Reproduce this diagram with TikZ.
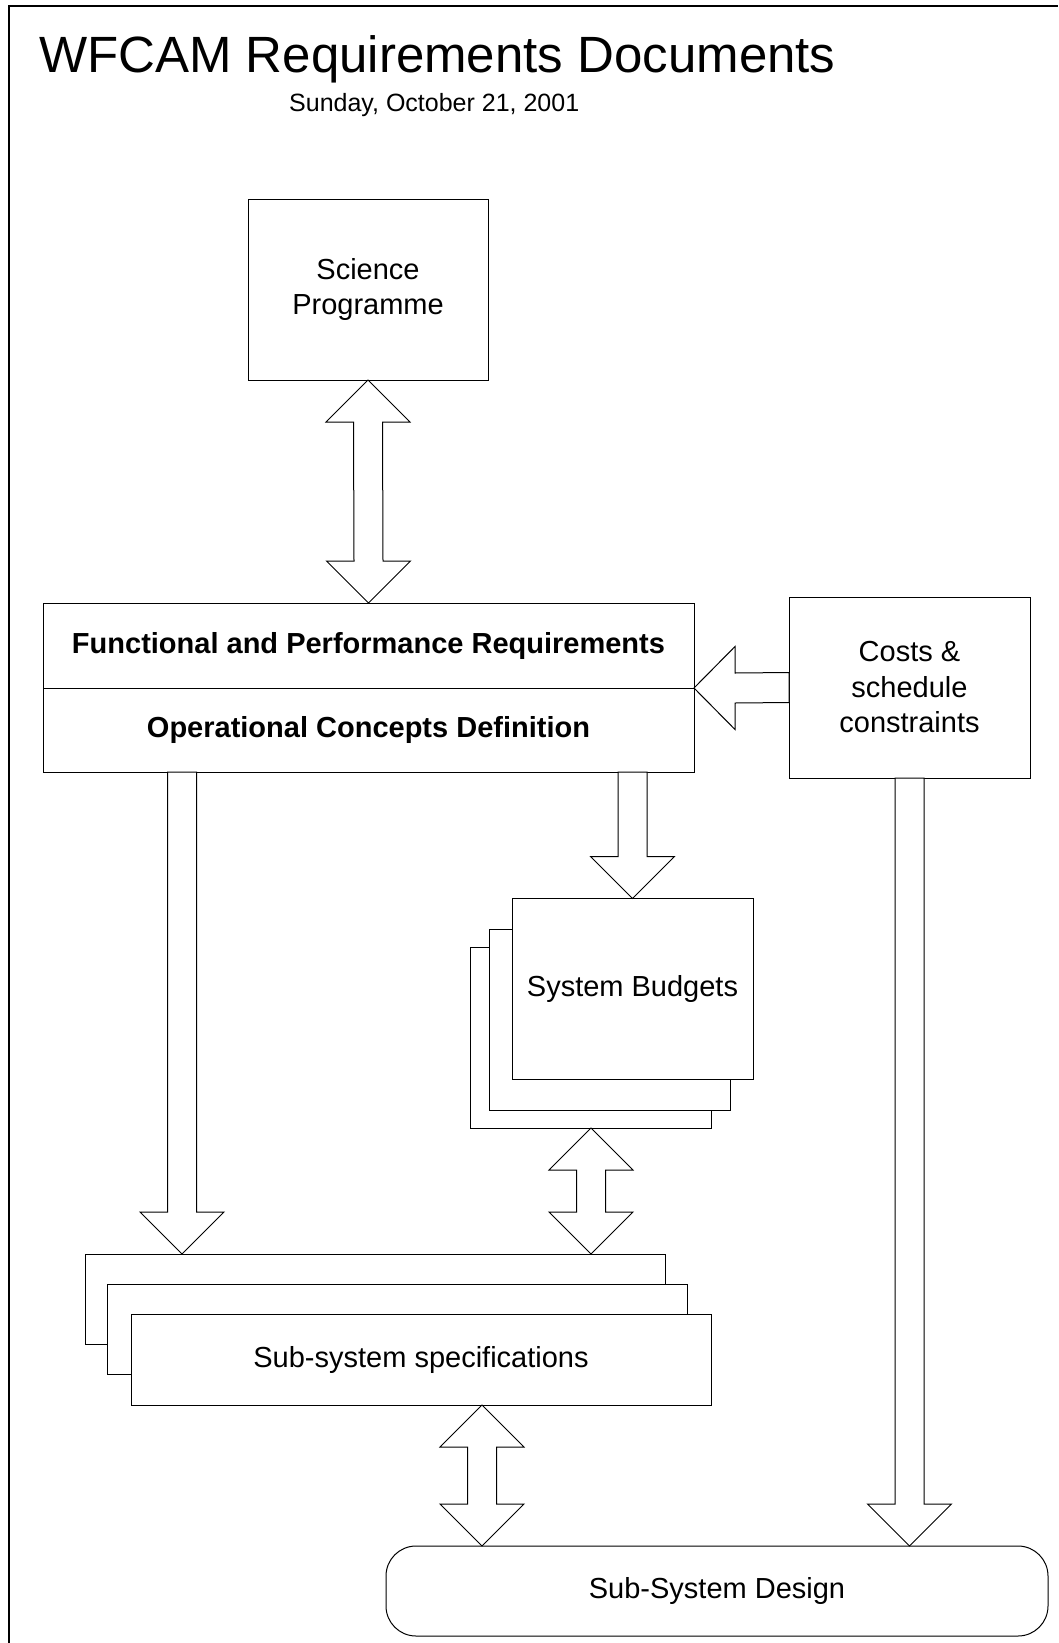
\documentclass[tikz,border=0pt]{standalone}
\usepackage{fontspec}
\setmainfont{Liberation Sans}
\usetikzlibrary{positioning,calc}

\tikzset{
box/.style={draw,line width=1pt,fill=white,inner sep=0pt,outer sep=0pt,align=center,
  font=\fontsize{29}{35.5}\selectfont},
boldbox/.style={box,font=\fontsize{29}{35.5}\selectfont\bfseries},
blockarrow/.style={draw,line width=1pt,fill=white,line join=miter}
}
% hollow down arrow, tail #1, tip #2
\newcommand{\downarrowbox}[2]{%
\draw[blockarrow] ($(#1)+(-14.5,0)$) -- ($(#2)+(-14.5,-42)$) -- ++(-27.5,0) -- (#2)
 -- ++(42,-42) -- ++(-27.5,0) -- ($(#1)+(14.5,0)$) -- cycle;}
% hollow double arrow, top tip #1, bottom tip #2
\newcommand{\dblarrowbox}[2]{%
\draw[blockarrow] (#1) -- ++(-42,42) -- ++(27.5,0) -- ($(#2)+(-14.5,-42)$) -- ++(-27.5,0) -- (#2)
 -- ++(42,-42) -- ++(-27.5,0) -- ($(#1)+(14.5,42)$) -- ++(27.5,0) -- cycle;}

\begin{document}
\begin{tikzpicture}[x=1pt,y=-1pt]
\useasboundingbox (0,0) rectangle (1058,1643);
\draw[line width=2pt] (9,1643) -- (9,6) -- (1058,6);

\node[anchor=base west,inner sep=0pt,font=\fontsize{51}{60}\selectfont] (title) at (39,73)
 {WFCAM Requirements Documents};
\node[anchor=base west,inner sep=0pt,font=\fontsize{25}{30}\selectfont] (date) at (289,112)
 {Sunday, October 21, 2001};

\draw
(368,289.5) node[box,minimum width=240pt,minimum height=181pt](sci){Science\\Programme}
(368.5,645.5) node[boldbox,minimum width=651pt,minimum height=85pt](fpr){Functional and Performance Requirements}
(909.5,687.5) node[box,minimum width=241pt,minimum height=181pt](costs){Costs \&\\schedule\\constraints}
(591,1037.5) node[box,minimum width=241pt,minimum height=181pt](bud3){}
(609.5,1020) node[box,minimum width=241pt,minimum height=181pt](bud2){}
(632.5,989) node[box,minimum width=241pt,minimum height=181pt](bud1){System Budgets}
(375.3,1299) node[box,minimum width=580pt,minimum height=90pt](spec1){}
(397,1329) node[box,minimum width=580pt,minimum height=90pt](spec2){}
(421,1359.5) node[box,minimum width=580pt,minimum height=91pt](spec3){Sub-system specifications}
(717,1591) node[box,rounded corners=30pt,minimum width=662pt,minimum height=90pt](design){Sub-System Design}
;
\node[boldbox,minimum width=651pt,minimum height=84pt,below=0pt of fpr](ocd){Operational Concepts Definition};

\coordinate (l1) at ($(ocd.south west)+(139,0)$);
\coordinate (l2) at (l1 |- spec1.north);
\coordinate (b1) at (bud1.north |- ocd.south);
\coordinate (c1) at (costs.south |- design.north);
\coordinate (s1) at (bud3.south |- spec1.north);
\coordinate (d1) at ($(spec3.south west)+(351,0)$);
\coordinate (d2) at (d1 |- design.north);

\foreach \s/\t in {l1/l2, b1/bud1.north, costs.south/c1}{
\downarrowbox{\s}{\t}
}
\foreach \s/\t in {sci.south/fpr.north, bud3.south/s1, d1/d2}{
\dblarrowbox{\s}{\t}
}
% costs into requirements
\draw[blockarrow] ($(costs.west)+(0,-15)$) -- ($(fpr.south east)+(41,-15)$) -- ++(0,-26.5)
 -- (fpr.south east) -- ++(41,41.5) -- ++(0,-26.5) -- ($(costs.west)+(0,15)$) -- cycle;
\end{tikzpicture}
\end{document}
